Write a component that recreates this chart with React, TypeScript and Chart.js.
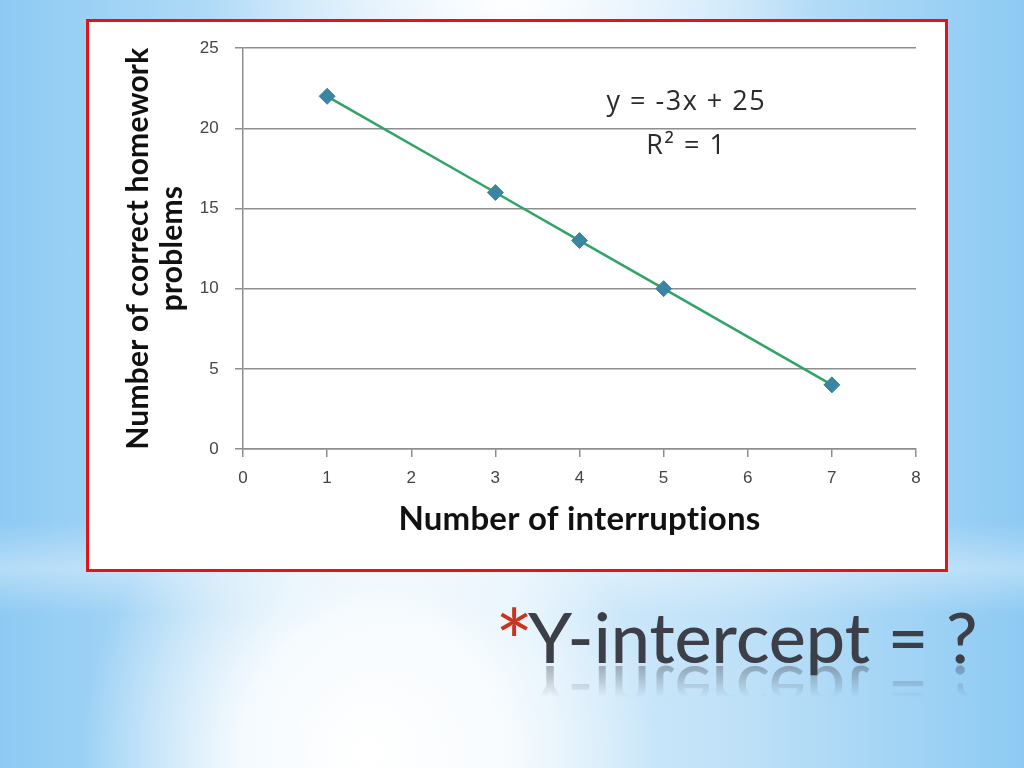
import React, { useEffect, useRef } from "react";
import { Chart, registerables } from "chart.js";

Chart.register(...registerables);

// ---- data ----
const interruptions = [1, 3, 4, 5, 7];
const correctProblems = [22, 16, 13, 10, 4];
const xRange = [0, 8];
const yRange = [0, 25];
const xStep = 1;
const yStep = 5;
const equationLines = ["y = -3x + 25", "R\u00B2 = 1"];
const equationAnchorX = 5.27;
const equationAnchorY = [21.6, 18.9];
const xTitle = "Number of interruptions";
const yTitle = ["Number of correct homework", "problems"];
const slideTitle = "Y-intercept = ?";

const GRID = "#8e8e8e";

// non-zero letter spacing keeps the canvas from forming "ti" ligatures
const spacingPlugin = {
  id: "spacing",
  beforeDraw(chart: any) {
    (chart.ctx as any).letterSpacing = "0.2px";
  },
};

const equationPlugin = {
  id: "equation",
  afterDatasetsDraw(chart: any) {
    const { ctx, scales } = chart;
    const x = scales.x;
    const y = scales.y;
    ctx.save();
    ctx.font = '27px "Open Sans"';
    ctx.fillStyle = "#2b2b2b";
    ctx.textAlign = "center";
    ctx.textBaseline = "middle";
    (ctx as any).letterSpacing = "1.5px";
    equationLines.forEach((t, i) => {
      ctx.fillText(t, x.getPixelForValue(equationAnchorX), y.getPixelForValue(equationAnchorY[i]));
    });
    ctx.restore();
  },
};

function ScatterChart() {
  const ref = useRef<HTMLCanvasElement | null>(null);
  useEffect(() => {
    if (!ref.current) return;
    const chart = new Chart(ref.current, {
      type: "scatter",
      data: {
        datasets: [
          {
            data: interruptions.map((v, i) => ({ x: v, y: correctProblems[i] })),
            showLine: true,
            borderColor: "#30a464",
            borderWidth: 2.5,
            pointStyle: "rectRot",
            pointRadius: 8,
            pointBackgroundColor: "#3a85a4",
            pointBorderColor: "#3a85a4",
            pointBorderWidth: 1,
          },
        ],
      },
      options: {
        animation: false,
        responsive: false,
        devicePixelRatio: 1,
        layout: { padding: { top: 23, right: 29, left: 0, bottom: 0 } },
        plugins: { legend: { display: false }, tooltip: { enabled: false } },
        scales: {
          x: {
            type: "linear",
            min: xRange[0],
            max: xRange[1],
            afterFit: (s: any) => {
              s.height = 120;
            },
            ticks: {
              stepSize: xStep,
              color: "#454545",
              padding: 11,
              font: { family: '"Liberation Sans"', size: 17 },
            },
            grid: { drawOnChartArea: false, drawTicks: true, tickLength: 8, color: GRID, lineWidth: 1.5 },
            border: { color: GRID, width: 1.5 },
            title: {
              display: true,
              text: xTitle,
              color: "#111111",
              font: { family: "Lato", size: 33, weight: "bold" },
              padding: { top: 0, bottom: 30 },
            },
          },
          y: {
            type: "linear",
            min: yRange[0],
            max: yRange[1],
            afterFit: (s: any) => {
              s.width = 154;
            },
            ticks: {
              stepSize: yStep,
              color: "#454545",
              padding: 16,
              font: { family: '"Liberation Sans"', size: 17 },
            },
            grid: { color: GRID, lineWidth: 1.5, tickLength: 8 },
            border: { color: GRID, width: 1.5 },
            title: {
              display: true,
              text: yTitle,
              color: "#111111",
              font: { family: "Lato", size: 30, weight: "bold", lineHeight: 1.15 },
              padding: { top: 32, bottom: 0 },
            },
          },
        },
      },
      plugins: [spacingPlugin, equationPlugin],
    } as any);
    return () => chart.destroy();
  }, []);
  return <canvas ref={ref} width={856} height={547} style={{ display: "block" }} />;
}

export default function App() {
  return (
    <div
      style={{
        position: "absolute",
        left: 0,
        top: 0,
        width: 1024,
        height: 768,
        overflow: "hidden",
        background: [
          "radial-gradient(ellipse 28% 40% at 36% 98%, rgba(255,255,255,1) 0%, rgba(255,255,255,0.85) 45%, rgba(255,255,255,0) 100%)",
          "radial-gradient(ellipse 30% 20% at 50% 0%, rgba(255,255,255,1) 0%, rgba(255,255,255,0) 100%)",
          "linear-gradient(to bottom, rgba(255,255,255,0) 68%, rgba(255,255,255,0.35) 74%, rgba(255,255,255,0) 80%)",
          "linear-gradient(to right, #8dcaf3 0%, #bfe1f8 30%, #d6ecfb 50%, #bfe1f8 72%, #8dcaf3 100%)",
        ].join(","),
      }}
    >
      <div
        style={{
          position: "absolute",
          left: 86,
          top: 19,
          width: 856,
          height: 547,
          border: "3px solid #e0141a",
          background: "#ffffff",
        }}
      >
        <ScatterChart />
      </div>
      <div
        style={{
          position: "absolute",
          left: 495,
          top: 595,
          fontFamily: "Lato",
          fontSize: 90,
          lineHeight: "90px",
          color: "#c8341f",
        }}
      >
        *
      </div>
      <div
        style={{
          position: "absolute",
          left: 528,
          top: 594,
          fontFamily: "Lato",
          fontSize: 70,
          fontWeight: 500,
          lineHeight: "normal",
          color: "#3c3e48",
          whiteSpace: "nowrap",
          fontVariantLigatures: "none",
          WebkitBoxReflect:
            "below -27px linear-gradient(to bottom, rgba(255,255,255,0) 45%, rgba(255,255,255,0.55) 100%)",
        } as any}
      >
        {slideTitle}
      </div>
    </div>
  );
}
